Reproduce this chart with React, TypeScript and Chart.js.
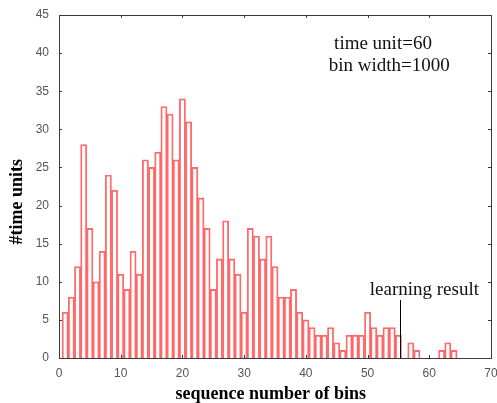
import React, { useEffect, useRef } from "react";
import { Chart, registerables } from "chart.js";

Chart.register(...registerables);

// bin sequence numbers (bar centres)
const binNumbers: number[] = [
  1, 2, 3, 4, 5, 6, 7, 8, 9, 10, 11, 12, 13, 14, 15, 16, 17, 18, 19, 20, 21, 22,
  23, 24, 25, 26, 27, 28, 29, 30, 31, 32, 33, 34, 35, 36, 37, 38, 39, 40, 41, 42,
  43, 44, 45, 46, 47, 48, 49, 50, 51, 52, 53, 54, 55, 56, 57, 58, 59, 60, 61, 62,
  63, 64,
];
// number of time units per bin
const timeUnits: number[] = [
  6, 8, 12, 28, 17, 10, 14, 24, 22, 11, 9, 14, 11, 26, 25, 27, 33, 32, 26, 34, 31,
  25, 21, 17, 9, 13, 18, 13, 11, 6, 17, 16, 13, 16, 12, 8, 8, 9, 6, 5, 4, 3, 3, 4,
  2, 1, 3, 3, 3, 6, 4, 3, 4, 4, 3, 0, 2, 1, 0, 0, 0, 1, 2, 1,
];
const xRange: number[] = [0, 70];
const xStep = 10;
const yRange: number[] = [0, 45];
const yStep = 5;

const xTitle = "sequence number of bins";
const yTitle = "#time units";
const noteLines: string[] = ["time unit=60", "bin width=1000"];
const noteAnchors: number[][] = [
  [52.5, 40.6],
  [53.5, 37.7],
];
const markerLabel = "learning result";
const markerX = 55.3;
const markerTop = 7.6;
const markerLabelAnchor: number[] = [59.2, 8.3];

const framePlugin = {
  id: "frameAndNotes",
  afterDatasetsDraw(chart: any) {
    const { ctx, chartArea } = chart;
    const xs = chart.scales.x;
    const ys = chart.scales.y;
    const { left, right, top, bottom } = chartArea;
    ctx.save();
    // frame
    ctx.strokeStyle = "#3a3a3a";
    ctx.lineWidth = 1;
    ctx.strokeRect(Math.round(left) + 0.5, Math.round(top) + 0.5, Math.round(right - left), Math.round(bottom - top));
    // inward ticks
    const tl = 3;
    ctx.beginPath();
    xs.ticks.forEach((t: any) => {
      const px = Math.round(xs.getPixelForValue(t.value)) + 0.5;
      ctx.moveTo(px, bottom);
      ctx.lineTo(px, bottom - tl);
      ctx.moveTo(px, top);
      ctx.lineTo(px, top + tl);
    });
    ys.ticks.forEach((t: any) => {
      const py = Math.round(ys.getPixelForValue(t.value)) + 0.5;
      ctx.moveTo(left, py);
      ctx.lineTo(left + tl, py);
      ctx.moveTo(right, py);
      ctx.lineTo(right - tl, py);
    });
    ctx.stroke();

    // learning result marker
    const mx = Math.round(xs.getPixelForValue(markerX)) + 0.5;
    ctx.beginPath();
    ctx.strokeStyle = "#000";
    ctx.moveTo(mx, ys.getPixelForValue(markerTop));
    ctx.lineTo(mx, ys.getPixelForValue(0));
    ctx.stroke();

    ctx.fillStyle = "#111";
    ctx.font = '19px "Liberation Serif"';
    ctx.textAlign = "center";
    ctx.textBaseline = "alphabetic";
    noteLines.forEach((line, i) => {
      ctx.fillText(line, xs.getPixelForValue(noteAnchors[i][0]), ys.getPixelForValue(noteAnchors[i][1]));
    });
    ctx.fillText(markerLabel, xs.getPixelForValue(markerLabelAnchor[0]), ys.getPixelForValue(markerLabelAnchor[1]));

    // axis titles
    ctx.fillStyle = "#000";
    ctx.font = 'bold 18px "Liberation Serif"';
    ctx.textBaseline = "middle";
    ctx.fillText(xTitle, xs.getPixelForValue(34.3), 394);
    ctx.save();
    ctx.translate(17, ys.getPixelForValue(20.5));
    ctx.rotate(-Math.PI / 2);
    ctx.fillText(yTitle, 0, 0);
    ctx.restore();
    ctx.restore();
  },
};

export default function App() {
  const canvasRef = useRef<HTMLCanvasElement | null>(null);

  useEffect(() => {
    if (!canvasRef.current) return;
    const data = binNumbers.map((b, i) => ({ x: b, y: timeUnits[i] }));
    const chart = new Chart(canvasRef.current, {
      type: "bar",
      data: {
        datasets: [
          {
            data: data as any,
            backgroundColor: "rgba(255,255,255,0)",
            borderColor: "rgba(255,80,80,0.85)",
            borderWidth: 1.2,
            barPercentage: 1,
            categoryPercentage: 1,
          },
        ],
      },
      options: {
        animation: false,
        responsive: true,
        maintainAspectRatio: false,
        layout: { padding: { top: 15, right: 6, left: 0, bottom: 0 } },
        plugins: {
          legend: { display: false },
          tooltip: { enabled: false },
        },
        scales: {
          x: {
            type: "linear",
            offset: false,
            min: xRange[0],
            max: xRange[1],
            grid: { display: false, drawTicks: false },
            border: { display: false },
            ticks: {
              stepSize: xStep,
              color: "#555",
              padding: 8,
              maxRotation: 0,
              font: { family: '"Liberation Sans"', size: 12 },
            },
            afterFit(scale: any) {
              scale.height = 45;
              scale.paddingLeft = 0;
              scale.paddingRight = 0;
            },
          },
          y: {
            type: "linear",
            min: yRange[0],
            max: yRange[1],
            grid: { display: false, drawTicks: false },
            border: { display: false },
            ticks: {
              stepSize: yStep,
              color: "#555",
              padding: 10,
              font: { family: '"Liberation Sans"', size: 12 },
            },
            afterFit(scale: any) {
              scale.width = 59;
              scale.paddingTop = 0;
              scale.paddingBottom = 0;
            },
          },
        },
      } as any,
      plugins: [framePlugin],
    });
    return () => chart.destroy();
  }, []);

  return (
    <div style={{ position: "fixed", left: 0, top: 0, width: 497, height: 403, background: "#fff" }}>
      <canvas ref={canvasRef} />
    </div>
  );
}
